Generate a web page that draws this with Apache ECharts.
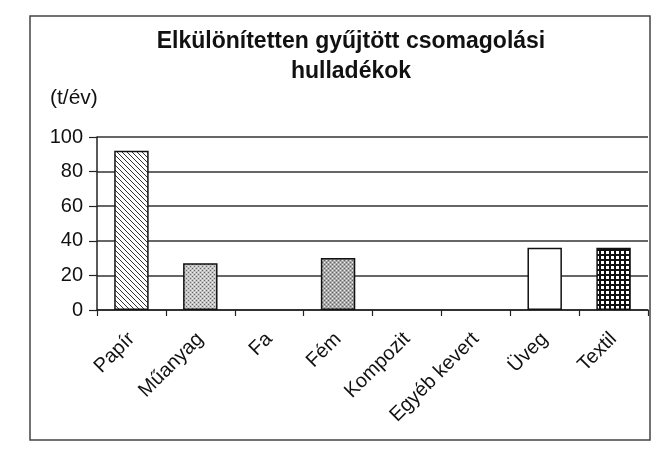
<!DOCTYPE html>
<html>
<head>
<meta charset="utf-8">
<script src="https://cdn.jsdelivr.net/npm/echarts@6/dist/echarts.min.js"></script>
<style>html,body{margin:0;padding:0;background:#fff}#c{width:656px;height:450px}</style>
</head>
<body>
<div id="c"></div>
<script>
const titleText = 'Elkülönítetten gyűjtött csomagolási\nhulladékok';
const unitLabel = '(t/év)';
const categories = ['Papír', 'Műanyag', 'Fa', 'Fém', 'Kompozit', 'Egyéb kevert', 'Üveg', 'Textil'];
const values = [92, 27, 0, 30, 0, 0, 36, 36];
const yTicks = [0, 20, 40, 60, 80, 100];

function makePattern(kind) {
  const c = document.createElement('canvas');
  const ctx = c.getContext('2d');
  if (kind === 'hatch') {
    const s = 5; c.width = s; c.height = s;
    ctx.fillStyle = '#fff'; ctx.fillRect(0, 0, s, s);
    ctx.strokeStyle = '#333'; ctx.lineWidth = 1;
    ctx.beginPath();
    ctx.moveTo(-1, -1); ctx.lineTo(s + 1, s + 1);
    ctx.moveTo(-1, s - 1); ctx.lineTo(1, s + 1);
    ctx.moveTo(s - 1, -1); ctx.lineTo(s + 1, 1);
    ctx.stroke();
  } else if (kind === 'dots' || kind === 'dotsDark') {
    const s = 4; c.width = s; c.height = s;
    ctx.fillStyle = kind === 'dots' ? '#c4c4c4' : '#a8a8a8';
    ctx.fillRect(0, 0, s, s);
    ctx.fillStyle = '#666';
    ctx.fillRect(0, 0, 1, 1); ctx.fillRect(2, 2, 1, 1);
    ctx.fillStyle = '#eee';
    ctx.fillRect(2, 0, 1, 1); ctx.fillRect(0, 2, 1, 1);
  } else if (kind === 'grid') {
    const s = 5; c.width = s; c.height = s;
    ctx.fillStyle = '#111'; ctx.fillRect(0, 0, s, s);
    ctx.fillStyle = '#fff'; ctx.fillRect(1, 1, 3, 3);
  } else {
    c.width = 2; c.height = 2;
    ctx.fillStyle = '#fff'; ctx.fillRect(0, 0, 2, 2);
  }
  return { image: c, repeat: 'repeat' };
}

const patternKinds = ['hatch', 'dots', 'white', 'dotsDark', 'white', 'white', 'white', 'grid'];
const barData = values.map((v, i) => ({
  value: v,
  itemStyle: { color: makePattern(patternKinds[i]), borderWidth: v === 0 ? 0 : 1.5 }
}));

const chart = echarts.init(document.getElementById('c'), null, { renderer: 'canvas' });
chart.setOption({
  animation: false,
  backgroundColor: '#fff',
  title: {
    text: titleText,
    left: 346, top: 22, textAlign: 'center',
    textStyle: { fontFamily: 'Liberation Sans, Arial, sans-serif', fontSize: 23, fontWeight: 'bold', color: '#111', lineHeight: 30 }
  },
  graphic: [
    { type: 'rect', shape: { x: 30, y: 16, width: 620, height: 424 }, style: { fill: 'none', stroke: '#444', lineWidth: 1.5 }, z: -1 },
    { type: 'text', left: 50, top: 88, style: { text: unitLabel, font: '21px "Liberation Sans", Arial, sans-serif', fill: '#111' } }
  ],
  grid: { left: 97, right: 8, top: 137, bottom: 140, containLabel: false },
  xAxis: {
    type: 'category',
    data: categories,
    axisLine: { lineStyle: { color: '#222', width: 1.5 } },
    axisTick: { show: true, length: 6, alignWithLabel: false, lineStyle: { color: '#222', width: 1.2 } },
    axisLabel: { rotate: 45, interval: 0, margin: 26, fontFamily: 'Liberation Sans, Arial, sans-serif', fontSize: 20, color: '#111' }
  },
  yAxis: {
    type: 'value',
    min: yTicks[0], max: yTicks[yTicks.length - 1], interval: 20,
    axisLine: { show: true, lineStyle: { color: '#222', width: 1.5 } },
    axisTick: { show: true, length: 8, lineStyle: { color: '#222', width: 1.2 } },
    axisLabel: { margin: 14, fontFamily: 'Liberation Sans, Arial, sans-serif', fontSize: 20, color: '#111' },
    splitLine: { show: true, lineStyle: { color: '#333', width: 1.5 } }
  },
  series: [{
    type: 'bar',
    data: barData,
    barWidth: '50%',
    itemStyle: { borderColor: '#111', borderWidth: 1.5 }
  }]
});
</script>
</body>
</html>
